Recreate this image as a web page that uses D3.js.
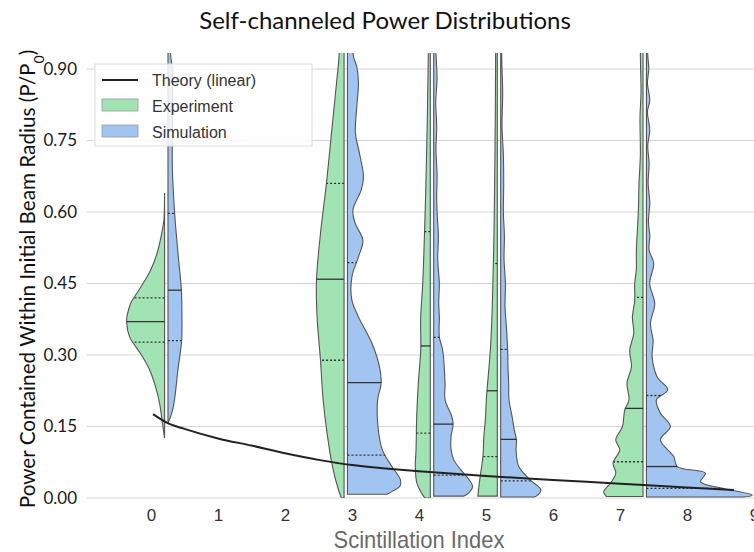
<!DOCTYPE html>
<html>
<head>
<meta charset="utf-8">
<script src="https://cdn.jsdelivr.net/npm/d3@7"></script>
<style>
  body { margin: 0; background: #fff; }
</style>
</head>
<body>
<div id="chart"></div>
<script>
// values
const xTicks = [0, 1, 2, 3, 4, 5, 6, 7, 8, 9];
const yTicks = [0, 0.15, 0.30, 0.45, 0.60, 0.75, 0.90];
const positions = [0.228, 2.907, 4.194, 5.194, 7.369];

const theoryX = [0.03, 0.25, 0.5, 1, 1.5, 2, 2.5, 3, 3.5, 4, 5, 6, 7, 8, 8.7];
const theoryY = [0.176, 0.157, 0.145, 0.125, 0.110, 0.094, 0.080, 0.069, 0.062, 0.056, 0.046, 0.038, 0.030, 0.022, 0.017];

// violin half profiles: [power, half width in scintillation units]
const expProfiles = [
  [[0.640,0],[0.60,0.004],[0.583,0.01],[0.55,0.05],[0.513,0.113],[0.478,0.209],[0.443,0.352],[0.408,0.507],[0.385,0.555],[0.370,0.567],[0.338,0.522],[0.303,0.358],[0.269,0.224],[0.233,0.134],[0.199,0.075],[0.164,0.039],[0.14,0.015],[0.126,0]],
  [[1.0,0.06],[0.926,0.075],[0.870,0.113],[0.765,0.188],[0.660,0.263],[0.555,0.352],[0.457,0.412],[0.380,0.403],[0.289,0.352],[0.206,0.313],[0.136,0.254],[0.066,0.173],[0.02,0.09],[0.0,0.04]],
  [[1.0,0.03],[0.926,0.03],[0.730,0.054],[0.590,0.079],[0.450,0.113],[0.380,0.143],[0.310,0.143],[0.241,0.179],[0.171,0.203],[0.101,0.213],[0.066,0.224],[0.031,0.20],[0.01,0.13],[0.0,0.08]],
  [[1.0,0.025],[0.926,0.025],[0.80,0.03],[0.660,0.04],[0.55,0.05],[0.450,0.066],[0.380,0.08],[0.310,0.104],[0.206,0.164],[0.171,0.175],[0.130,0.20],[0.087,0.215],[0.05,0.25],[0.024,0.275],[0.004,0.29]],
  [[1.0,0.035],[0.926,0.039],[0.85,0.03],[0.80,0.045],[0.72,0.04],[0.660,0.06],[0.60,0.07],[0.520,0.099],[0.48,0.10],[0.450,0.124],[0.415,0.124],[0.380,0.158],[0.345,0.139],[0.310,0.199],[0.275,0.173],[0.241,0.239],[0.206,0.209],[0.185,0.273],[0.150,0.307],[0.122,0.407],[0.101,0.348],[0.073,0.448],[0.052,0.407],[0.031,0.487],[0.013,0.587],[0.003,0.546]]
];
const simProfiles = [
  [[1.0,0.03],[0.93,0.04],[0.898,0.064],[0.80,0.066],[0.688,0.066],[0.597,0.10],[0.514,0.149],[0.436,0.20],[0.373,0.209],[0.330,0.204],[0.269,0.149],[0.199,0.09],[0.175,0.05],[0.157,0]],
  [[1.0,0.07],[0.926,0.09],[0.905,0.139],[0.870,0.164],[0.821,0.139],[0.765,0.119],[0.723,0.179],[0.674,0.239],[0.646,0.204],[0.604,0.081],[0.576,0.115],[0.541,0.23],[0.506,0.164],[0.464,0.066],[0.415,0.066],[0.380,0.164],[0.325,0.364],[0.275,0.478],[0.241,0.503],[0.206,0.45],[0.150,0.455],[0.101,0.52],[0.066,0.663],[0.038,0.79],[0.024,0.78],[0.015,0.68],[0.008,0.59]],
  [[1.0,0.03],[0.93,0.035],[0.88,0.05],[0.83,0.03],[0.78,0.045],[0.73,0.034],[0.68,0.05],[0.63,0.045],[0.590,0.054],[0.55,0.07],[0.50,0.06],[0.450,0.084],[0.41,0.075],[0.380,0.084],[0.338,0.084],[0.310,0.134],[0.241,0.169],[0.206,0.17],[0.171,0.27],[0.155,0.29],[0.13,0.26],[0.10,0.26],[0.08,0.30],[0.06,0.40],[0.04,0.52],[0.024,0.58],[0.01,0.52],[0.004,0.45]],
  [[1.0,0.015],[0.926,0.015],[0.85,0.03],[0.78,0.02],[0.72,0.04],[0.660,0.045],[0.60,0.04],[0.55,0.055],[0.50,0.05],[0.450,0.07],[0.40,0.065],[0.350,0.09],[0.310,0.104],[0.270,0.11],[0.241,0.119],[0.206,0.124],[0.171,0.17],[0.145,0.20],[0.122,0.235],[0.100,0.23],[0.066,0.27],[0.038,0.44],[0.017,0.60],[0.006,0.55],[0.002,0.50]],
  [[1.0,0.02],[0.93,0.02],[0.90,0.035],[0.87,0.015],[0.835,0.05],[0.81,0.015],[0.772,0.05],[0.74,0.02],[0.70,0.04],[0.66,0.025],[0.62,0.05],[0.58,0.03],[0.55,0.05],[0.52,0.04],[0.492,0.109],[0.45,0.049],[0.408,0.124],[0.366,0.06],[0.330,0.10],[0.296,0.085],[0.254,0.16],[0.227,0.318],[0.206,0.149],[0.178,0.209],[0.150,0.358],[0.122,0.209],[0.087,0.407],[0.066,0.46],[0.052,0.88],[0.034,0.806],[0.020,1.149],[0.006,1.578],[0.002,1.45]]
];

const expMedian = [0.370, 0.459, 0.319, 0.225, 0.188];
const expQ1     = [0.327, 0.289, 0.136, 0.087, 0.076];
const expQ3     = [0.420, 0.660, 0.559, 0.492, 0.421];
const simMedian = [0.436, 0.242, 0.155, 0.123, 0.066];
const simQ1     = [0.330, 0.090, 0.048, 0.036, 0.020];
const simQ3     = [0.597, 0.494, 0.337, 0.312, 0.215];

const legendLabels = ["Theory (linear)", "Experiment", "Simulation"];

const expColor = "#a2e3b3", simColor = "#a1c5f0", edgeColor = "#555";
const gap = 1.7;  // px between the two halves
const sans = "'Liberation Sans', Arial, sans-serif";

const W = 754, H = 552;
const margin = {left: 84, top: 53, right: 0, bottom: 54},
    width = W - margin.left - margin.right,
    height = H - margin.top - margin.bottom;

const root = d3.select("#chart").append("svg")
    .attr("width", W)
    .attr("height", H);
const svg = root.append("g")
    .attr("transform", `translate(${margin.left}, ${margin.top})`);

const xScale = d3.scaleLinear().domain([-1, 9]).range([0, width]);
const yScale = d3.scaleLinear().domain([0, 0.9]).range([445, 16]);

// grid
svg.selectAll(".grid")
    .data(yTicks)
    .enter().append("line")
    .attr("x1", 3).attr("x2", width)
    .attr("y1", d => yScale(d)).attr("y2", d => yScale(d))
    .attr("stroke", "#d6d6d6")
    .attr("stroke-width", 1.2);

// axes
const yAxis = svg.append("g")
    .call(d3.axisLeft(yScale).tickValues(yTicks).tickFormat(d3.format(".2f")).tickSize(0).tickPadding(7));
yAxis.select(".domain").remove();
yAxis.selectAll("text")
    .attr("font-family", "Lato, 'Open Sans', sans-serif")
    .attr("font-size", "17px")
    .attr("fill", "#1a1a1a");

const xAxis = svg.append("g")
    .attr("transform", `translate(0, ${height})`)
    .call(d3.axisBottom(xScale).tickValues(xTicks).tickFormat(d3.format("d")).tickSize(0).tickPadding(11));
xAxis.select(".domain").remove();
xAxis.selectAll("text")
    .attr("font-family", sans)
    .attr("font-size", "17px")
    .attr("fill", "#333");

svg.append("clipPath").attr("id", "plotClip")
    .append("rect").attr("x", 0).attr("y", 0).attr("width", width).attr("height", height);

const plot = svg.append("g").attr("clip-path", "url(#plotClip)");

function sorted(p) {
    return p.slice().sort((a, b) => a[0] - b[0]);
}
function widthAt(p, v) {
    const s = sorted(p);
    for (let i = 0; i < s.length - 1; i++) {
        if (v >= s[i][0] && v <= s[i + 1][0]) {
            const t = (v - s[i][0]) / (s[i + 1][0] - s[i][0]);
            return s[i][1] + t * (s[i + 1][1] - s[i][1]);
        }
    }
    return 0;
}

// draw one half violin, side = -1 left / +1 right
function half(profile, pos, side, color, med, q1, q3) {
    const edge = xScale(pos) + side * gap;
    const px = w => Math.abs(xScale(pos + w) - xScale(pos));
    const area = d3.area()
        .y(d => yScale(d[0]))
        .x0(edge)
        .x1(d => edge + side * px(d[1]))
        .curve(d3.curveCatmullRom.alpha(0.5));
    plot.append("path")
        .datum(sorted(profile))
        .attr("d", area)
        .attr("fill", color)
        .attr("stroke", edgeColor)
        .attr("stroke-width", 1.1);
    [[med, null], [q1, "2,2"], [q3, "2,2"]].forEach(([v, dash]) => {
        plot.append("line")
            .attr("x1", edge)
            .attr("x2", edge + side * px(widthAt(profile, v)))
            .attr("y1", yScale(v)).attr("y2", yScale(v))
            .attr("stroke", "#333")
            .attr("stroke-width", 1.3)
            .attr("stroke-dasharray", dash);
    });
}

positions.forEach((pos, i) => {
    half(expProfiles[i], pos, -1, expColor, expMedian[i], expQ1[i], expQ3[i]);
    half(simProfiles[i], pos, 1, simColor, simMedian[i], simQ1[i], simQ3[i]);
});

// theory curve
const line = d3.line()
    .x((d, i) => xScale(theoryX[i]))
    .y(d => yScale(d))
    .curve(d3.curveMonotoneX);
plot.append("path")
    .datum(theoryY)
    .attr("fill", "none")
    .attr("stroke", "#222")
    .attr("stroke-width", 2)
    .attr("d", line);

// legend
const legend = root.append("g").attr("transform", "translate(95, 64)");
legend.append("rect")
    .attr("width", 217).attr("height", 82)
    .attr("fill", "#fff").attr("fill-opacity", 0.82)
    .attr("stroke", "#dcdcdc");
legend.append("line")
    .attr("x1", 7).attr("x2", 43).attr("y1", 16).attr("y2", 16)
    .attr("stroke", "#222").attr("stroke-width", 2);
[expColor, simColor].forEach((c, i) => {
    legend.append("rect")
        .attr("x", 7).attr("y", 35 + i * 26)
        .attr("width", 36).attr("height", 12)
        .attr("fill", c).attr("stroke", "#999").attr("stroke-width", 0.8);
});
legend.selectAll(".lab")
    .data(legendLabels)
    .enter().append("text")
    .attr("x", 57)
    .attr("y", (d, i) => 22 + i * 26)
    .attr("font-family", sans)
    .attr("font-size", "16px")
    .attr("fill", "#333")
    .text(d => d);

// titles
root.append("text")
    .attr("x", 385).attr("y", 29)
    .attr("text-anchor", "middle")
    .attr("font-family", "Lato, 'Open Sans', sans-serif")
    .attr("font-size", "24px")
    .attr("fill", "#111")
    .text("Self-channeled Power Distributions");

root.append("text")
    .attr("x", 419).attr("y", 548)
    .attr("text-anchor", "middle")
    .attr("font-family", sans)
    .attr("font-size", "24px")
    .attr("textLength", 171)
    .attr("lengthAdjust", "spacingAndGlyphs")
    .attr("fill", "#6a6a6a")
    .text("Scintillation Index");

const ylab = root.append("text")
    .attr("transform", "translate(35, 279) rotate(-90)")
    .attr("text-anchor", "middle")
    .attr("font-family", "Lato, 'Open Sans', sans-serif")
    .attr("font-size", "20.7px")
    .attr("fill", "#111");
ylab.append("tspan").text("Power Contained Within Initial Beam Radius (P/P");
ylab.append("tspan").attr("baseline-shift", "sub").attr("font-size", "14px").text("0");
ylab.append("tspan").text(")");
</script>
</body>
</html>
